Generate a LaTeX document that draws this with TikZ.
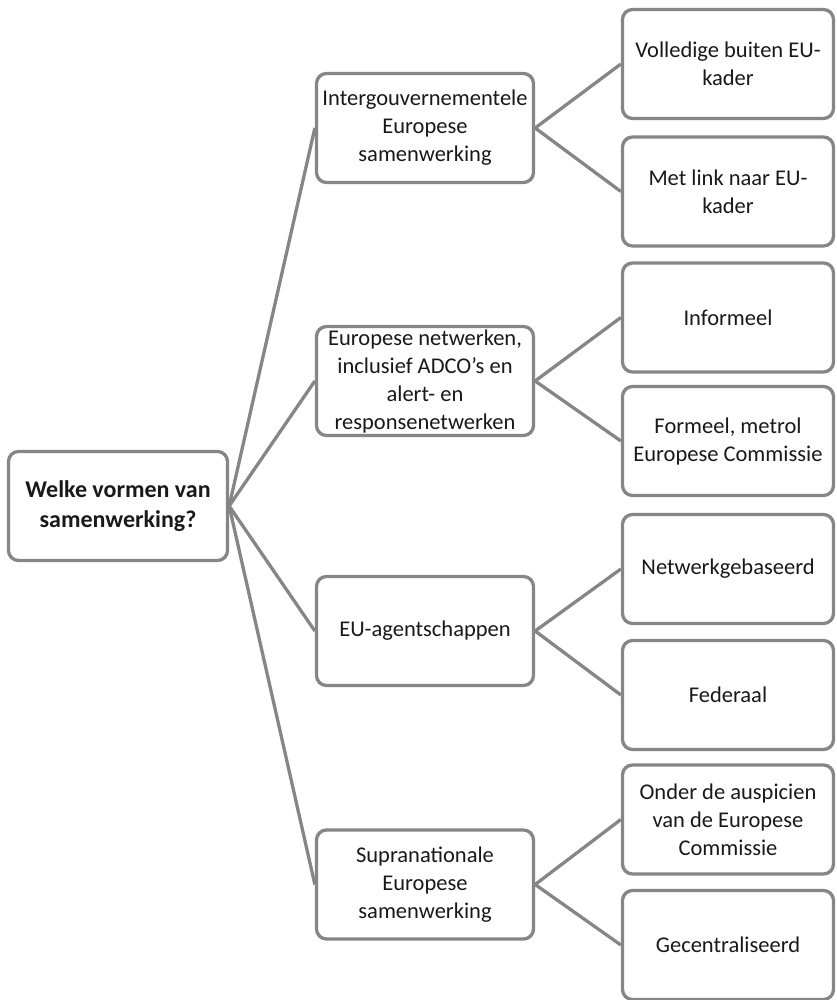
\documentclass[tikz,border=0pt]{standalone}
\usepackage{fontspec}
\setmainfont{Carlito}
\definecolor{linegray}{RGB}{134,134,134}
\definecolor{textdark}{RGB}{25,25,25}
\tikzset{
  boxbase/.style={draw=linegray, line width=3.3pt, rounded corners=10pt, fill=white,
    text=textdark, align=center, minimum height=109pt, inner sep=1pt,
    font=\fontsize{22.5pt}{28pt}\selectfont},
  rootbox/.style={boxbase, minimum width=219pt, font=\fontsize{24pt}{30pt}\selectfont\bfseries},
  midbox/.style={boxbase, minimum width=217pt},
  leafbox/.style={boxbase, minimum width=211pt},
  conn/.style={draw=linegray, line width=3.3pt}
}
\begin{document}
\begin{tikzpicture}[x=1pt,y=-1pt]
\useasboundingbox (0,0) rectangle (836,1000);
\node[rootbox] (root) at (118,506) {Welke vormen van\\samenwerking?};
\node[midbox] (m1) at (425,128) {Intergouvernementele\\Europese\\samenwerking};
\node[midbox] (m2) at (425,381) {Europese netwerken,\\inclusief ADCO’s en\\alert- en\\responsenetwerken};
\node[midbox] (m3) at (425,631) {EU-agentschappen};
\node[midbox] (m4) at (425,884.5) {Supranationale\\Europese\\samenwerking};
\node[leafbox] (l1) at (728,64) {Volledige buiten EU-\\kader};
\node[leafbox] (l2) at (728,191.5) {Met link naar EU-\\kader};
\node[leafbox] (l3) at (728,317.5) {Informeel};
\node[leafbox] (l4) at (728,441) {Formeel, metrol\\Europese Commissie};
\node[leafbox] (l5) at (728,569) {Netwerkgebaseerd};
\node[leafbox] (l6) at (728,695) {Federaal};
\node[leafbox] (l7) at (728,819.5) {Onder de auspicien\\van de Europese\\Commissie};
\node[leafbox] (l8) at (728,945) {Gecentraliseerd};
\foreach \m in {m1,m2,m3,m4} \draw[conn] (root.east) -- (\m.west);
\draw[conn] (m1.east) -- (l1.west);
\draw[conn] (m1.east) -- (l2.west);
\draw[conn] (m2.east) -- (l3.west);
\draw[conn] (m2.east) -- (l4.west);
\draw[conn] (m3.east) -- (l5.west);
\draw[conn] (m3.east) -- (l6.west);
\draw[conn] (m4.east) -- (l7.west);
\draw[conn] (m4.east) -- (l8.west);
\end{tikzpicture}
\end{document}
